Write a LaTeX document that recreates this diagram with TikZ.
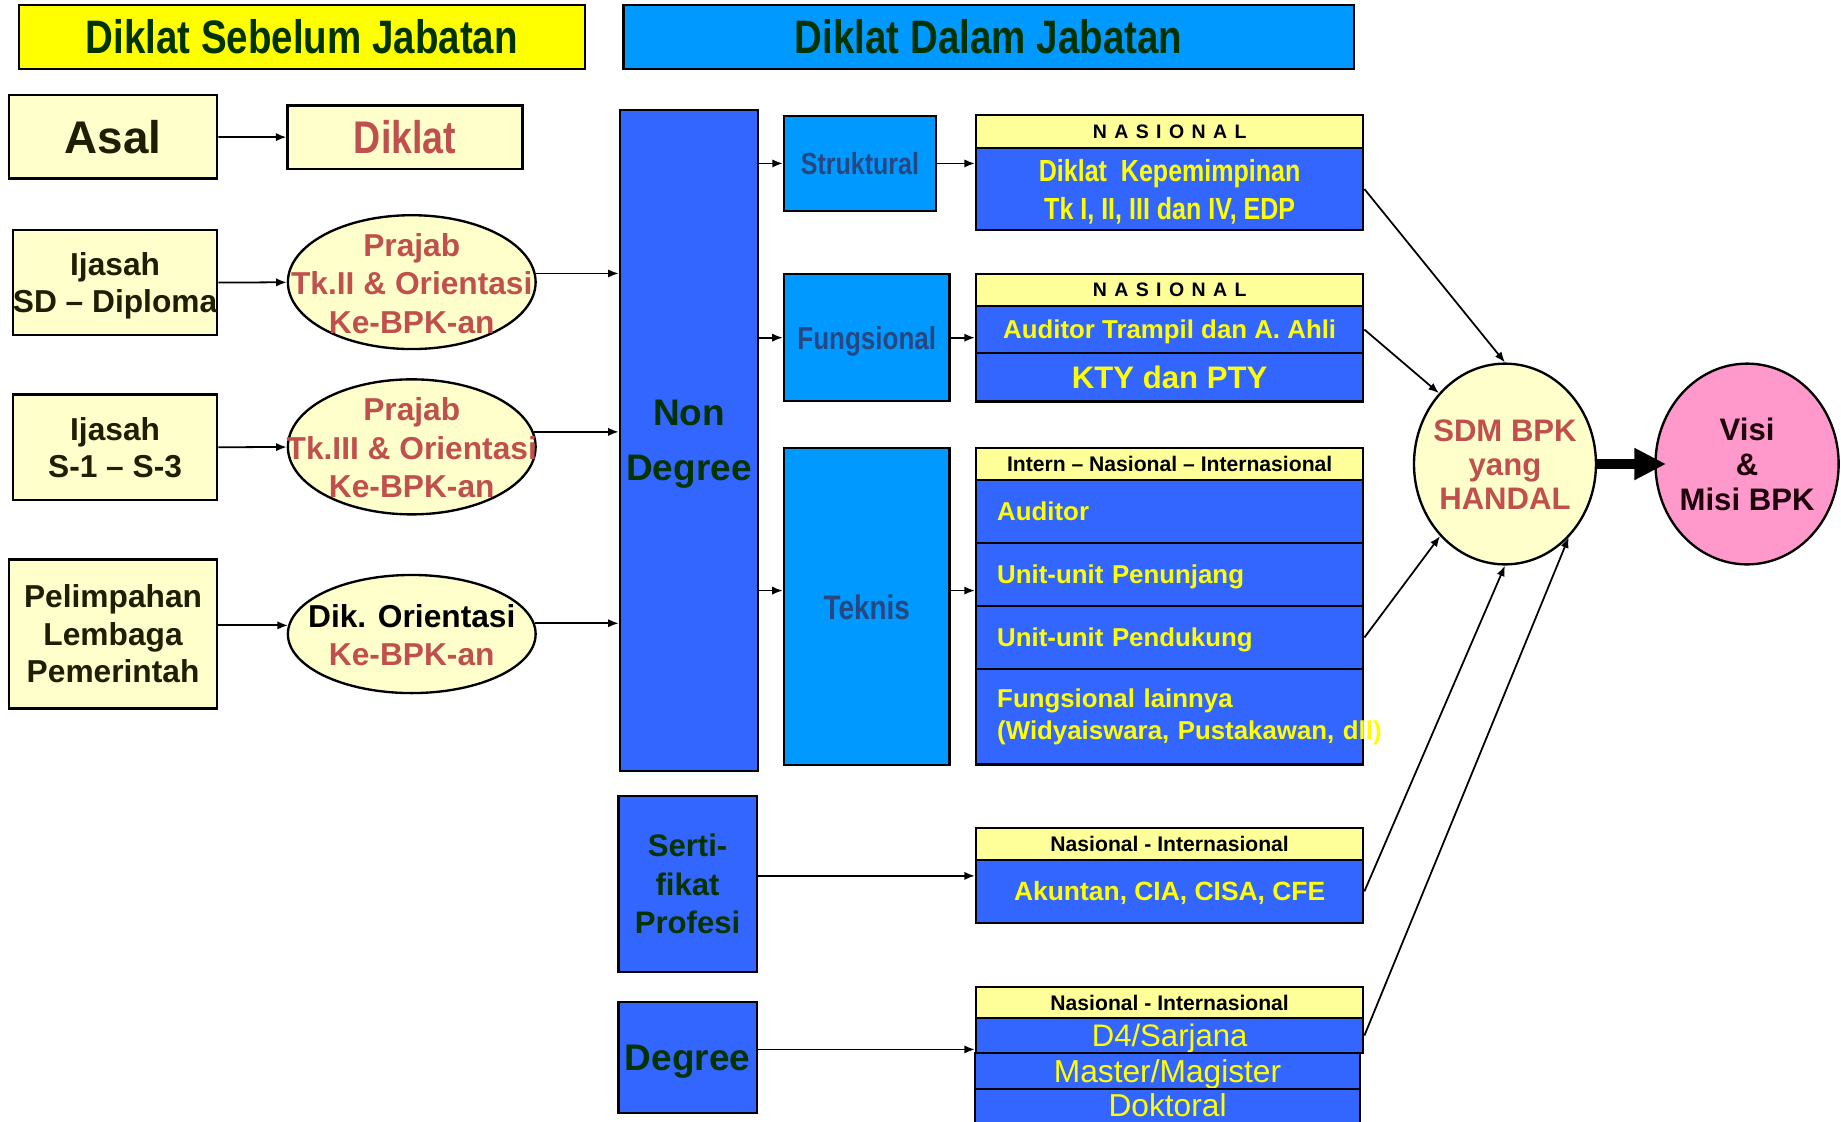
\documentclass[tikz,border=0pt]{standalone}
\usepackage{fontspec}
\setmainfont{Liberation Sans}
\newfontfamily\narrowfont[FakeStretch=0.82]{Liberation Sans}
\usetikzlibrary{arrows.meta,shapes.geometric}
\definecolor{titleyellow}{HTML}{FFFF00}
\definecolor{skyblue}{HTML}{0099FF}
\definecolor{royal}{HTML}{3366FF}
\definecolor{cream}{HTML}{FFFFCC}
\definecolor{lemon}{HTML}{FFFF99}
\definecolor{pinkish}{HTML}{FF99CC}
\definecolor{darkgreen}{HTML}{003300}
\definecolor{brick}{HTML}{C0504D}
\definecolor{asaltext}{HTML}{1E1E00}
\definecolor{slate}{HTML}{264882}
\definecolor{visitext}{HTML}{1E000A}
\newcommand{\zbox}[1]{\raisebox{\dimexpr(\depth-\height)/2-4pt\relax}[0pt][0pt]{\makebox[0pt]{\begin{tabular}{@{}c@{}}#1\end{tabular}}}}
\begin{document}
\begin{tikzpicture}[x=1pt,y=-1pt,>={Latex[length=9pt,width=7pt]},
	box/.style={draw,line width=2pt,inner sep=0pt,align=center,text depth=0pt},
	titlebox/.style={box,text=darkgreen,minimum height=55,font=\narrowfont\fontsize{40}{48}\selectfont\bfseries},
	cream box/.style={box,fill=cream,text=asaltext,font=\fontsize{27}{32}\selectfont\bfseries},
	blue box/.style={box,fill=royal,text=darkgreen},
	sky box/.style={box,fill=skyblue,text=slate,font=\narrowfont\fontsize{27}{32}\selectfont\bfseries},
	headbox/.style={box,fill=lemon,minimum width=329.7,font=\fontsize{18}{21}\selectfont\bfseries},
	rowbox/.style={box,fill=royal,text=titleyellow,minimum width=329.7,font=\fontsize{22}{27}\selectfont\bfseries},
	leftrow/.style={rowbox,text width=293.7,align=left,inner xsep=18pt},
	ovalbox/.style={ellipse,draw,line width=2pt,inner sep=0pt,fill=cream,text=brick,font=\fontsize{27}{32.8}\selectfont\bfseries},
	arr/.style={->,line width=1.5pt}]
	\useasboundingbox (0,0) rectangle (1568,955);
	\clip (0,0) rectangle (1568,955);
	\node[titlebox,fill=titleyellow,minimum width=482] (sebelum) at (257,31.5) {Diklat Sebelum Jabatan};
	\node[titlebox,fill=skyblue,minimum width=622] (dalam) at (842,31.5) {Diklat Dalam Jabatan};
	\node[cream box,minimum width=177.5,minimum height=71,font=\fontsize{39}{47}\selectfont\bfseries] (asal) at (96.3,116.5) {Asal};
	\node[cream box,text=brick,minimum width=200,minimum height=54,font=\narrowfont\fontsize{39}{47}\selectfont\bfseries] (diklat) at (345,117) {Diklat};
	\node[cream box,minimum width=174,minimum height=89.5] (ijasd) at (98,240.7) {Ijasah\\SD – Diploma};
	\node[cream box,minimum width=174,minimum height=90] (ijas) at (98,381) {Ijasah\\S-1 – S-3};
	\node[cream box,minimum width=177.5,minimum height=127] (pelimpahan) at (96.3,539.9) {Pelimpahan\\Lembaga\\Pemerintah};
	\node[ovalbox,minimum width=211,minimum height=114] (prajabII) at (350.7,240.3) {\zbox{Prajab\\Tk.II \& Orientasi\\Ke-BPK-an}};
	\node[ovalbox,minimum width=211,minimum height=115] (prajabIII) at (350.7,380.6) {\zbox{Prajab\\Tk.III \& Orientasi\\Ke-BPK-an}};
	\node[ovalbox,minimum width=211,minimum height=100.6] (orientasi) at (350.7,540) {\zbox{\textcolor{black}{Dik. Orientasi}\\Ke-BPK-an}};
	\node[blue box,minimum width=117.6,minimum height=562.5,font=\fontsize{31.5}{46.5}\selectfont\bfseries] (nondeg) at (586.8,375.2) {Non\\Degree};
	\node[blue box,minimum width=117.8,minimum height=149.6,font=\fontsize{26.5}{32.5}\selectfont\bfseries] (serti) at (585.6,752.8) {Serti-\\fikat\\Profesi};
	\node[blue box,minimum width=117.8,minimum height=94.4,font=\fontsize{31.5}{38}\selectfont\bfseries] (degree) at (585.6,900.8) {Degree};
	\node[sky box,minimum width=129.3,minimum height=81.1,font=\narrowfont\fontsize{26}{31}\selectfont\bfseries] (struk) at (732.4,139.2) {Struktural};
	\node[sky box,minimum width=141,minimum height=108] (fungs) at (738.2,287.6) {Fungsional};
	\node[sky box,minimum width=141,minimum height=270,font=\narrowfont\fontsize{29}{35}\selectfont\bfseries] (tekn) at (738.2,516.7) {Teknis};
	\node[headbox,minimum height=28,font=\fontsize{16.6}{20}\selectfont\bfseries] (hstruk) at (996.2,112) {\spaceskip=6.3pt N A S I O N A L};
	\node[rowbox,minimum height=70,font=\narrowfont\fontsize{26}{32.4}\selectfont\bfseries] (bstruk) at (996.2,161) {Diklat~~Kepemimpinan\\Tk I, II, III dan IV, EDP};
	\node[headbox,minimum height=27.2,font=\fontsize{16.6}{20}\selectfont\bfseries] (hfung) at (996.2,247) {\spaceskip=6.3pt N A S I O N A L};
	\node[rowbox,minimum height=40.2] (auditor) at (996.2,280.7) {Auditor Trampil dan A. Ahli};
	\node[rowbox,minimum height=41.2,font=\fontsize{26.5}{32}\selectfont\bfseries] (kty) at (996.2,321.4) {KTY dan PTY};
	\node[headbox,minimum height=27.2] (htek) at (996.2,395.2) {Intern – Nasional – Internasional};
	\node[leftrow,minimum height=53.8] (tauditor) at (996.2,435.7) {Auditor};
	\node[leftrow,minimum height=53.4] (penunjang) at (996.2,489.3) {Unit-unit Penunjang};
	\node[leftrow,minimum height=54] (pendukung) at (996.2,543) {Unit-unit Pendukung};
	\node[leftrow,text depth={},minimum height=81] (lainnya) at (996.2,610.5) {Fungsional lainnya\\\mbox{(Widyaiswara, Pustakawan, dll)}};
	\node[headbox,minimum height=27.1] (hserti) at (996.2,719) {Nasional - Internasional};
	\node[rowbox,minimum height=53.5,font=\fontsize{22.5}{27}\selectfont\bfseries] (akuntan) at (996.2,759.2) {Akuntan, CIA, CISA, CFE};
	\node[headbox,minimum height=26.6] (hdeg) at (996.2,853.7) {Nasional - Internasional};
	\node[rowbox,minimum height=30,font=\fontsize{26.5}{30}\selectfont] (sarjana) at (996.2,882) {D4/Sarjana};
	\node[rowbox,minimum width=328,minimum height=30.7,font=\fontsize{27}{30}\selectfont] (magister) at (994.4,912.4) {Master/Magister};
	\node[rowbox,minimum width=328,minimum height=31,font=\fontsize{27}{30}\selectfont] (doktoral) at (994.4,943.2) {\raisebox{4pt}{Doktoral}};
	\node[ovalbox,minimum width=155,minimum height=171,font=\fontsize{26.5}{29}\selectfont\bfseries] (sdm) at (1281.8,395.2) {\zbox{SDM BPK\\yang\\HANDAL}};
	\node[ovalbox,fill=pinkish,text=visitext,minimum width=156,minimum height=171,font=\fontsize{26.5}{30}\selectfont\bfseries] (visi) at (1488,395.2) {\zbox{Visi\\\&\\Misi BPK}};
	\draw[arr] (asal) -- (diklat);
	\draw[arr] (ijasd) -- (prajabII);
	\draw[arr] (ijas) -- (prajabIII);
	\draw[arr] (pelimpahan.east |- orientasi.176) -- (orientasi.176);
	\draw[arr] (prajabII.4) -- (prajabII.4 -| nondeg.west);
	\draw[arr] (prajabIII.7) -- (prajabIII.7 -| nondeg.west);
	\draw[arr] (orientasi.5) -- (orientasi.5 -| nondeg.west);
	\draw[arr] (nondeg.east |- struk.west) -- (struk.west);
	\draw[arr] (nondeg.east |- fungs.west) -- (fungs.west);
	\draw[arr] ([yshift=13.7pt]tekn.west -| nondeg.east) -- ([yshift=13.7pt]tekn.west);
	\draw[arr] (struk) -- (struk -| bstruk.west);
	\draw[arr] (fungs) -- (fungs -| auditor.west);
	\draw[arr] ([yshift=13.7pt]tekn.east) -- ([yshift=13.7pt]tekn.east -| penunjang.west);
	\draw[arr] ([yshift=6.8pt]serti.east) -- ([yshift=6.8pt]serti.east -| akuntan.west);
	\draw[arr] ([yshift=7pt]degree.east) -- ([yshift=7pt]degree.east -| sarjana.west);
	\draw[arr] (bstruk.east) -- (sdm.north);
	\draw[arr] (auditor.east) -- (sdm.133);
	\draw[arr] (pendukung.east) -- (sdm.228);
	\draw[arr] (akuntan.east) -- (sdm.south);
	\draw[arr] (sarjana.east) -- (sdm.311);
	\draw[-{Triangle[length=27pt,width=25.5pt]},line width=8.5pt] (sdm.east) -- ([xshift=10pt]visi.west);
\end{tikzpicture}
\end{document}
